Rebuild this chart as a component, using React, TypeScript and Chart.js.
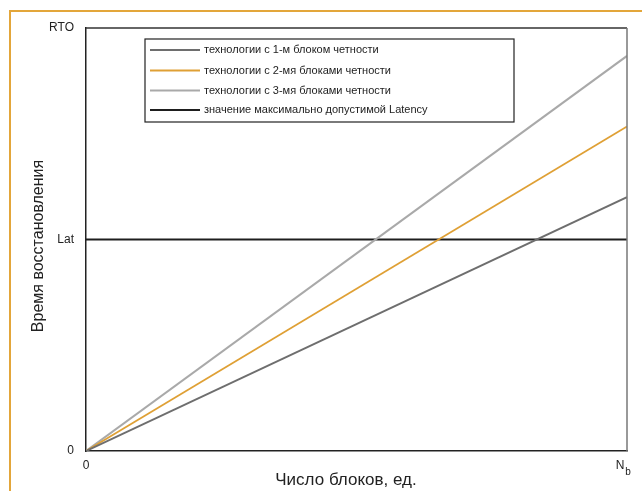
import React, { useEffect, useRef } from "react";
import { Chart, registerables } from "chart.js";

Chart.register(...registerables);

const seriesLabels = [
  "технологии с 1-м блоком четности",
  "технологии с 2-мя блоками четности",
  "технологии с 3-мя блоками четности",
  "значение максимально допустимой Latency",
];
const seriesColors = ["#6e6e6e", "#dfa035", "#a9a9a9", "#1e1e1e"];
const seriesWidths = [2, 1.8, 2, 2];
const xValues = [0, 1];
const series1 = [0, 60];
const series2 = [0, 76.7];
const series3 = [0, 93.4];
const latency = [50, 50];
const yTickValues = [0, 50, 100];
const yTickLabels = ["0", "Lat", "RTO"];
const xTickLabels = ["0", "N"];
const xSubscript = "b";
const yTitle = "Время восстановления";
const xTitle = "Число блоков, ед.";

const FONT = "'Liberation Sans', Arial, sans-serif";

const extrasPlugin = {
  id: "extras",
  afterDraw(chart: any) {
    const ctx = chart.ctx;
    const area = chart.chartArea;
    const xs = chart.scales.x;
    ctx.save();
    // frame top/right
    ctx.lineWidth = 1.5;
    ctx.strokeStyle = "#333";
    ctx.beginPath();
    ctx.moveTo(area.left, area.top);
    ctx.lineTo(area.right, area.top);
    ctx.stroke();
    ctx.strokeStyle = "#777";
    ctx.beginPath();
    ctx.moveTo(area.right, area.top);
    ctx.lineTo(area.right, area.bottom);
    ctx.stroke();

    // x tick labels
    ctx.fillStyle = "#222";
    ctx.font = `12px ${FONT}`;
    ctx.textAlign = "center";
    ctx.textBaseline = "middle";
    const p0 = xs.getPixelForValue(xValues[0]);
    const p1 = xs.getPixelForValue(xValues[1]);
    ctx.fillText(xTickLabels[0], p0, 466);
    ctx.fillText(xTickLabels[1], p1 - 7, 466);
    ctx.font = `10px ${FONT}`;
    ctx.fillText(xSubscript, p1 + 1, 472);

    // axis titles
    ctx.font = `17px ${FONT}`;
    ctx.fillText(xTitle, 346, 480);
    ctx.font = `16px ${FONT}`;
    ctx.save();
    ctx.translate(39, 246);
    ctx.rotate(-Math.PI / 2);
    ctx.fillText(yTitle, 0, 0);
    ctx.restore();

    // legend box
    const bx = 145, by = 39, bw = 369, bh = 83;
    ctx.fillStyle = "#fff";
    ctx.fillRect(bx, by, bw, bh);
    ctx.lineWidth = 1.2;
    ctx.strokeStyle = "#222";
    ctx.strokeRect(bx, by, bw, bh);
    const rows = [50, 70.5, 90.5, 110];
    chart.data.datasets.forEach((ds: any, i: number) => {
      const y = rows[i];
      ctx.strokeStyle = ds.borderColor;
      ctx.lineWidth = ds.borderWidth;
      ctx.beginPath();
      ctx.moveTo(150, y);
      ctx.lineTo(200, y);
      ctx.stroke();
      ctx.fillStyle = "#222";
      ctx.font = `11px ${FONT}`;
      ctx.textAlign = "left";
      ctx.textBaseline = "middle";
      ctx.fillText(ds.label, 204, y);
    });
    ctx.restore();
  },
};

export default function App() {
  const ref = useRef<HTMLCanvasElement>(null);
  useEffect(() => {
    if (!ref.current) return;
    const allSeries = [series1, series2, series3, latency];
    const chart = new Chart(ref.current, {
      type: "line",
      data: {
        datasets: allSeries.map((s, i) => ({
          label: seriesLabels[i],
          data: xValues.map((x, j) => ({ x, y: s[j] })),
          borderColor: seriesColors[i],
          backgroundColor: seriesColors[i],
          borderWidth: seriesWidths[i],
          pointRadius: 0,
          fill: false,
          tension: 0,
        })),
      },
      options: {
        animation: false,
        responsive: false,
        devicePixelRatio: 1,
        layout: { padding: { left: 0, right: 15, top: 28, bottom: 0 } },
        plugins: { legend: { display: false }, tooltip: { enabled: false } },
        scales: {
          x: {
            type: "linear",
            min: 0,
            max: 1,
            grid: { display: false, drawTicks: false },
            border: { display: true, color: "#222", width: 1.5 },
            ticks: { display: false },
            afterFit: (s: any) => {
              s.height = 40;
            },
          },
          y: {
            type: "linear",
            min: 0,
            max: 100,
            grid: { display: false, drawTicks: false },
            border: { display: true, color: "#222", width: 1.5 },
            afterBuildTicks: (s: any) => {
              s.ticks = yTickValues.map((v) => ({ value: v }));
            },
            ticks: {
              padding: 12,
              color: "#222",
              font: { size: 12, family: FONT },
              callback: (v: any) => {
                const i = yTickValues.indexOf(Number(v));
                return i >= 0 ? yTickLabels[i] : "";
              },
            },
            afterFit: (s: any) => {
              s.width = 86;
            },
          },
        },
      },
      plugins: [extrasPlugin],
    } as any);
    return () => chart.destroy();
  }, []);
  return (
    <div style={{ position: "fixed", left: 0, top: 0, width: 642, height: 491, background: "#fff" }}>
      <div
        style={{
          position: "absolute",
          left: 9,
          top: 10,
          width: 700,
          height: 600,
          borderLeft: "2px solid #e3a63a",
          borderTop: "2px solid #e3a63a",
        }}
      />
      <canvas ref={ref} width={642} height={491} style={{ position: "absolute", left: 0, top: 0 }} />
    </div>
  );
}
